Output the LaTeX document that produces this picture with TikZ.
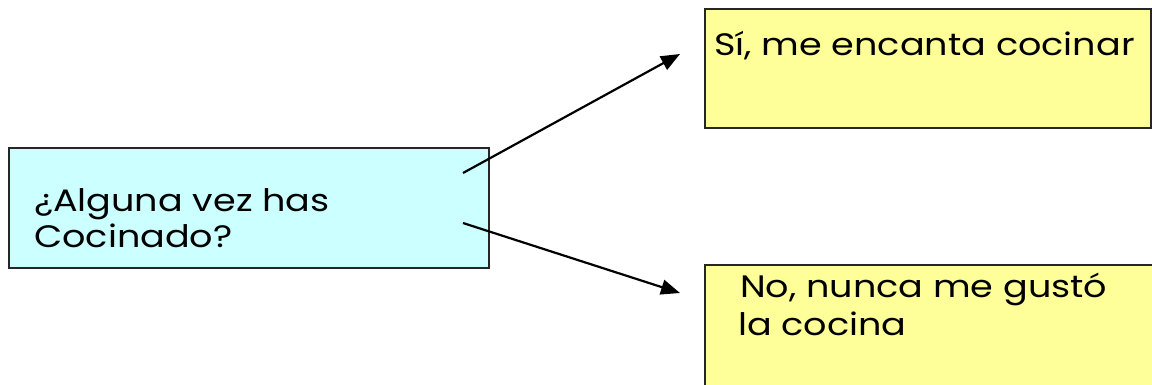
\documentclass[tikz,border=0pt]{standalone}
\usepackage{fontspec}
\setmainfont{Poppins}[FakeStretch=1.18]
\usetikzlibrary{arrows.meta}
\definecolor{qfill}{HTML}{CCFFFF}
\definecolor{afill}{HTML}{FFFF99}
\tikzset{
  box/.style={draw=black!85, line width=1.8pt, rectangle, inner sep=0pt, anchor=north west},
  qbox/.style={box, fill=qfill},
  abox/.style={box, fill=afill},
  txt/.style={anchor=base west, inner sep=0pt, font=\fontsize{31}{36}\selectfont},
  conn/.style={line width=2.2pt, -{Triangle[length=19pt, width=15pt]}}
}
\begin{document}
\begin{tikzpicture}[x=1pt, y=-1pt]
\clip (0,0) rectangle (1152,384);
\fill[white] (0,0) rectangle (1152,384);
\node[qbox, minimum width=480pt, minimum height=120pt] (q) at (8,147) {};
\node[abox, minimum width=446pt, minimum height=119pt] (a) at (704,8) {};
\node[abox, minimum width=470pt, minimum height=140pt] (b) at (704,264) {};
\node[txt] (qt1) at (34,211) {¿Alguna vez has};
\node[txt] (qt2) at (34,247) {Cocinado?};
\node[txt] (at1) at (714,55) {Sí, me encanta cocinar};
\node[txt] (bt1) at (740,297) {No, nunca me gustó};
\node[txt] (bt2) at (738,335) {la cocina};
\coordinate (s1) at (463,173);
\coordinate (e1) at (680,54);
\coordinate (s2) at (463,223);
\coordinate (e2) at (680,293);
\draw[conn] (s1) -- (e1);
\draw[conn] (s2) -- (e2);
\end{tikzpicture}
\end{document}
